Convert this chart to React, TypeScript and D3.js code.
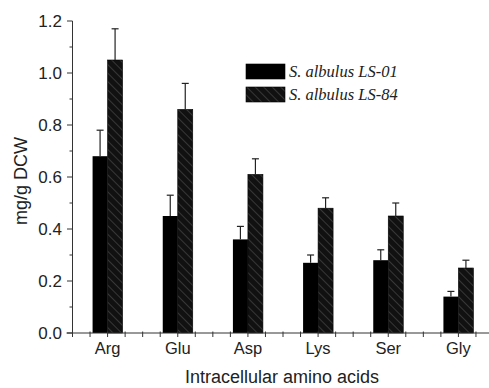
import React from 'react';
import * as d3 from 'd3';

const categories = ['Arg', 'Glu', 'Asp', 'Lys', 'Ser', 'Gly'];
const ls01 = [0.68, 0.45, 0.36, 0.27, 0.28, 0.14];
const ls01Err = [0.1, 0.08, 0.05, 0.03, 0.04, 0.02];
const ls84 = [1.05, 0.86, 0.61, 0.48, 0.45, 0.25];
const ls84Err = [0.12, 0.1, 0.06, 0.04, 0.05, 0.03];
const yTicks = [0, 0.2, 0.4, 0.6, 0.8, 1.0, 1.2];
const seriesNames = ['S. albulus LS-01', 'S. albulus LS-84'];

const W = 489, H = 388;

export default function App() {
  // x is a linear scale over category index, like the Origin plot
  const x = d3.scaleLinear().domain([0.5, 6.5]).range([72.5, 493.5]);
  const y = d3.scaleLinear().domain([0, 1.2]).range([333, 21]);
  const barW = 15;
  const minorX = d3.range(0.5, 6.51, 0.25);
  const minorY = d3.range(0, 1.21, 0.1);
  const font = 'Arial, "Liberation Sans", sans-serif';

  return (
    <svg width={W} height={H} style={{ position: 'absolute', left: 0, top: 0, background: '#fff' }}>
      <defs>
        <pattern id="hatch" width="6" height="6" patternUnits="userSpaceOnUse" patternTransform="rotate(-45)">
          <rect width="6" height="6" fill="#111" />
          <line x1="0" y1="0" x2="0" y2="6" stroke="#5c5c5c" strokeWidth="1" />
        </pattern>
      </defs>

      {/* bars */}
      {categories.map((c, i) => {
        const cx = x(i + 1);
        return (
          <g key={c}>
            <rect x={cx - barW} y={y(ls01[i])} width={barW} height={y(0) - y(ls01[i])} fill="#000" />
            <rect x={cx} y={y(ls84[i])} width={barW} height={y(0) - y(ls84[i])} fill="url(#hatch)" stroke="#000" strokeWidth={0.6} />
            {/* error bars, upper only */}
            {[[cx - barW / 2, ls01[i], ls01Err[i]], [cx + barW / 2, ls84[i], ls84Err[i]]].map(([bx, v, e], k) => (
              <g key={k} stroke="#222" strokeWidth={1.2}>
                <line x1={bx} x2={bx} y1={y(v)} y2={y(v + e)} />
                <line x1={bx - 3.5} x2={bx + 3.5} y1={y(v + e)} y2={y(v + e)} />
              </g>
            ))}
          </g>
        );
      })}

      {/* y axis */}
      <g stroke="#333" strokeWidth={1}>
        <line x1={x(0.5)} x2={x(0.5)} y1={y(1.2)} y2={y(0) + 4} />
        {minorY.map((v, i) => (
          <line key={i} x1={x(0.5) - (i % 2 === 0 ? 5.5 : 3)} x2={x(0.5)} y1={y(v)} y2={y(v)} />
        ))}
      </g>
      {yTicks.map(v => (
        <text key={v} x={62} y={y(v)} dy="0.35em" textAnchor="end" fontFamily={font} fontSize={17} fill="#222">
          {d3.format('.1f')(v)}
        </text>
      ))}

      {/* x axis */}
      <g stroke="#333" strokeWidth={1}>
        <line x1={x(0.5) - 6} x2={W} y1={y(0)} y2={y(0)} />
        {minorX.map((v, i) => (
          <line key={i} x1={x(v)} x2={x(v)} y1={y(0) - 1.5} y2={y(0) + 4} />
        ))}
      </g>
      {categories.map((c, i) => (
        <text key={c} x={x(i + 1)} y={354} textAnchor="middle" fontFamily={font} fontSize={16.5} fill="#222">
          {c}
        </text>
      ))}

      {/* axis titles */}
      <text x={282} y={383} textAnchor="middle" fontFamily={font} fontSize={18} fill="#222">
        Intracellular amino acids
      </text>
      <text transform="translate(27,181) rotate(-90)" textAnchor="middle" fontFamily={font} fontSize={18} fill="#222">
        mg/g DCW
      </text>

      {/* legend */}
      {seriesNames.map((s, i) => (
        <g key={s} transform={`translate(246,${64 + i * 23})`}>
          <rect width={39} height={15} fill={i === 0 ? '#000' : 'url(#hatch)'} stroke="#000" strokeWidth={0.6} />
          <text x={43} y={13} fontFamily='"Liberation Serif", "Times New Roman", serif' fontStyle="italic" fontSize={16.5} fill="#222">
            {s}
          </text>
        </g>
      ))}
    </svg>
  );
}
